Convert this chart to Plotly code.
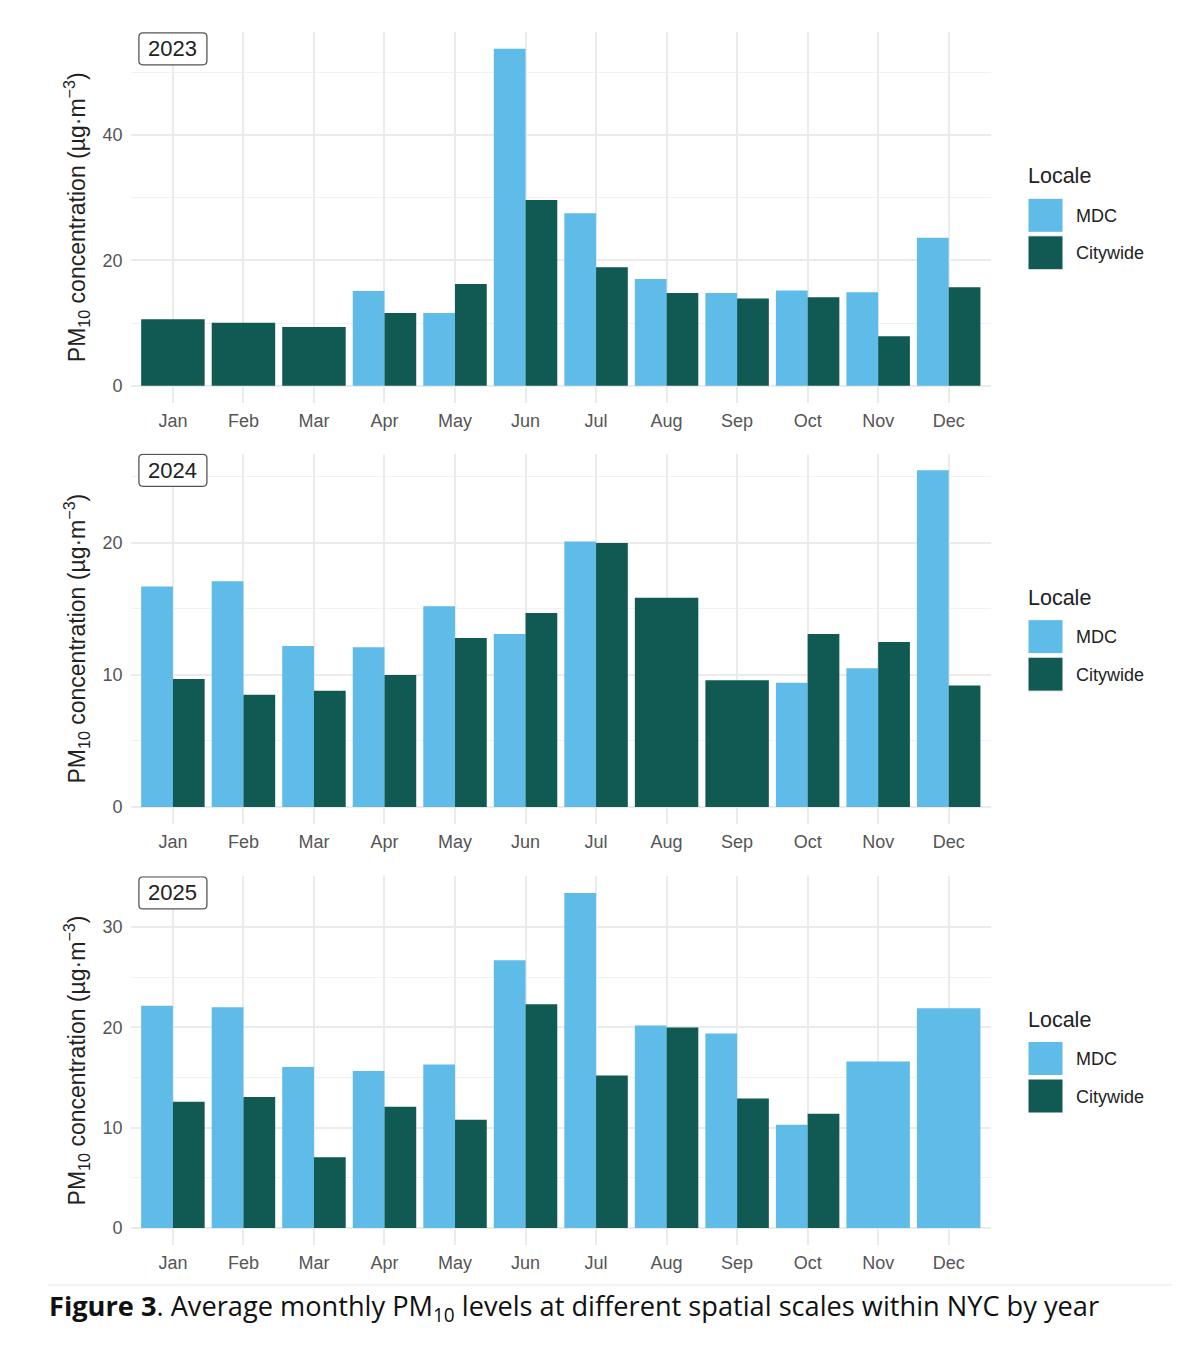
import plotly.graph_objects as go

months = ["Jan", "Feb", "Mar", "Apr", "May", "Jun",
          "Jul", "Aug", "Sep", "Oct", "Nov", "Dec"]
years = ["2023", "2024", "2025"]
locales = ["MDC", "Citywide"]

# monthly PM10 means, None = no data for that month
mdc_2023 = [None, None, None, 15.1, 11.6, 53.7, 27.5, 17.0, 14.8, 15.2, 14.9, 23.6]
city_2023 = [10.6, 10.05, 9.35, 11.6, 16.2, 29.6, 18.9, 14.8, 13.9, 14.1, 7.9, 15.7]
mdc_2024 = [16.7, 17.1, 12.2, 12.1, 15.2, 13.1, 20.1, None, None, 9.4, 10.5, 25.5]
city_2024 = [9.7, 8.5, 8.8, 10.0, 12.8, 14.7, 20.0, 15.85, 9.6, 13.1, 12.5, 9.2]
mdc_2025 = [22.15, 22.0, 16.05, 15.65, 16.3, 26.7, 33.4, 20.2, 19.4, 10.3, 16.6, 21.9]
city_2025 = [12.6, 13.05, 7.05, 12.1, 10.8, 22.3, 15.2, 20.0, 12.9, 11.4, None, None]

panels = [(mdc_2023, city_2023), (mdc_2024, city_2024), (mdc_2025, city_2025)]
major_step = [20, 10, 10]

colors = {"MDC": "#5FBBE8", "Citywide": "#115953"}
FONT = "Liberation Sans, Arial, sans-serif"
CAP_FONT = "Open Sans, Noto Sans, sans-serif"

# the page body adds an 8px margin, so the figure is a bit smaller than the window
PAD = 8
W, H = 1182 - PAD, 1350 - PAD

# panel placement in window pixels (top, bottom)
panel_px = [(32, 402.6), (453.5, 823.8), (876.2, 1244.8)]
x_left, x_right = 130.6, 991

# rounded box behind the year tag, in pixels around its anchor
TAG_BOX = ("M -30,-16 L 30,-16 Q 34,-16 34,-12 L 34,12 Q 34,16 30,16 "
           "L -30,16 Q -34,16 -34,12 L -34,-12 Q -34,-16 -30,-16 Z")


def px_x(x):
    return (x - PAD) / W


def px_y(y):
    return 1 - (y - PAD) / H


def dodge(own, other, left):
    # ggplot-style dodge: half width when both exist, full width otherwise
    xs, ys, ws, offs = [], [], [], []
    for m, v, o in zip(months, own, other):
        if v is None:
            continue
        xs.append(m)
        ys.append(v)
        if o is None:
            ws.append(0.9)
            offs.append(-0.45)
        else:
            ws.append(0.45)
            offs.append(-0.45 if left else 0.0)
    return xs, ys, ws, offs


fig = go.Figure()
shapes = []
annotations = []

for k, (mdc, city) in enumerate(panels):
    xa = "x" if k == 0 else "x%d" % (k + 1)
    ya = "y" if k == 0 else "y%d" % (k + 1)
    for name, own, other, left in [("MDC", mdc, city, True),
                                   ("Citywide", city, mdc, False)]:
        xs, ys, ws, offs = dodge(own, other, left)
        fig.add_trace(go.Bar(
            x=xs, y=ys, width=ws, offset=offs,
            marker=dict(color=colors[name], line=dict(width=0)),
            name=name, showlegend=False,
            xaxis=xa, yaxis=ya,
        ))

    vals = [v for v in mdc + city if v is not None]
    ymax = max(vals)
    top, bot = panel_px[k]
    step = major_step[k]

    fig.layout["xaxis" if k == 0 else "xaxis%d" % (k + 1)] = dict(
        domain=[px_x(x_left), px_x(x_right)],
        anchor=ya,
        type="category",
        categoryorder="array", categoryarray=months,
        range=[-0.6, 11.6],
        showgrid=True, gridcolor="#EBEBEB", gridwidth=1.6,
        zeroline=False, showline=False, ticks="",
        tickfont=dict(size=18, color="#555555", family=FONT),
        ticklabelstandoff=5,
    )
    fig.layout["yaxis" if k == 0 else "yaxis%d" % (k + 1)] = dict(
        domain=[px_y(bot), px_y(top)],
        anchor=xa,
        range=[-0.05 * ymax, 1.05 * ymax],
        dtick=step, tick0=0,
        showgrid=True, gridcolor="#EBEBEB", gridwidth=1.6,
        minor=dict(dtick=step / 2, showgrid=True, gridcolor="#F1F1F1", gridwidth=1),
        zeroline=False, showline=False, ticks="",
        tickfont=dict(size=18, color="#555555", family=FONT),
        ticklabelstandoff=7,
        title=dict(text="PM<sub>10</sub> concentration (µg·m<sup>−3</sup>)",
                   font=dict(size=23, color="#222222", family=FONT),
                   standoff=10),
    )

    # year tag at the first month, level with the panel maximum
    shapes.append(dict(
        type="path", xref=xa, yref=ya,
        xsizemode="pixel", ysizemode="pixel",
        xanchor=0, yanchor=ymax, path=TAG_BOX,
        fillcolor="white", line=dict(color="#555555", width=1.3),
    ))
    annotations.append(dict(
        x=months[0], y=ymax, xref=xa, yref=ya,
        text=years[k], showarrow=False,
        font=dict(size=22, color="#222222", family=FONT),
    ))

    # legend block, centred on the panel
    c = (top + bot) / 2
    annotations.append(dict(
        x=px_x(1026), y=px_y(c - 41), xref="paper", yref="paper",
        text="Locale", showarrow=False, xanchor="left", yanchor="middle",
        font=dict(size=21.5, color="#222222", family=FONT),
    ))
    for j, name in enumerate(locales):
        y0 = c - 19 + j * 37.5
        shapes.append(dict(
            type="rect", xref="paper", yref="paper",
            x0=px_x(1028), x1=px_x(1063), y0=px_y(y0 + 34), y1=px_y(y0),
            fillcolor=colors[name], line=dict(color="white", width=1),
        ))
        annotations.append(dict(
            x=px_x(1074), y=px_y(y0 + 17.5), xref="paper", yref="paper",
            text=name, showarrow=False, xanchor="left", yanchor="middle",
            font=dict(size=18, color="#222222", family=FONT),
        ))

# caption
shapes.append(dict(
    type="line", xref="paper", yref="paper",
    x0=px_x(48), x1=px_x(1172), y0=px_y(1285), y1=px_y(1285),
    line=dict(color="#E6E6E6", width=1),
))
annotations.append(dict(
    x=px_x(47), y=px_y(1307), xref="paper", yref="paper",
    text="<b>Figure 3</b>. Average monthly PM<sub>10</sub> levels at different spatial scales within NYC by year",
    showarrow=False, xanchor="left", yanchor="middle",
    font=dict(size=27.2, color="#111111", family=CAP_FONT),
))

fig.update_layout(
    width=W, height=H, autosize=False,
    margin=dict(l=0, r=0, t=0, b=0),
    barmode="overlay",
    plot_bgcolor="white", paper_bgcolor="white",
    font=dict(family=FONT),
    shapes=shapes, annotations=annotations,
    showlegend=False,
)

fig.write_html("out.html")
